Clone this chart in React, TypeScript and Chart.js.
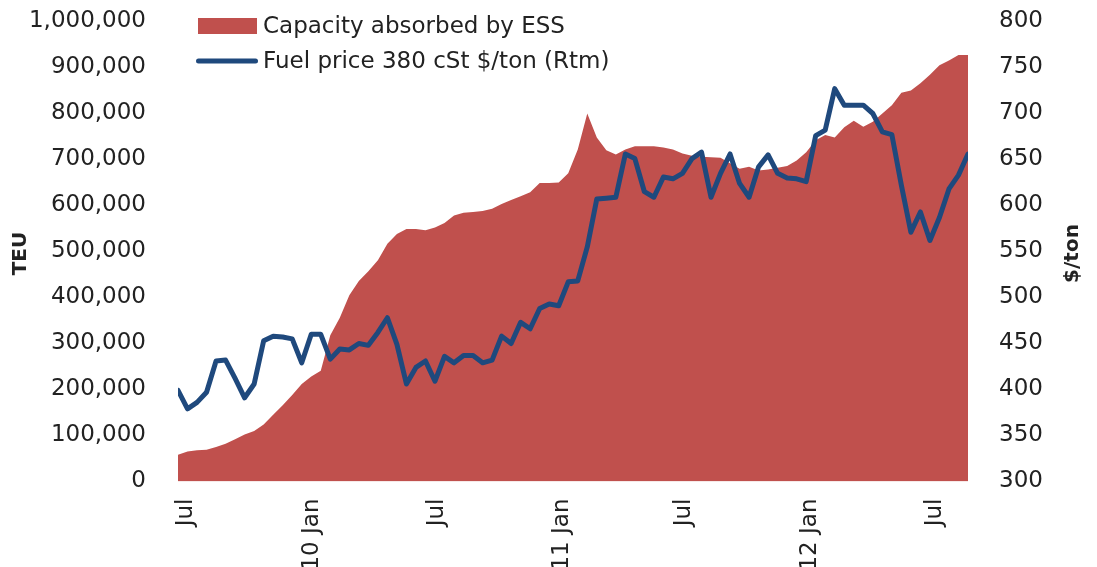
import React, { useEffect, useRef } from 'react';
import { Chart, registerables } from 'chart.js';

Chart.register(...registerables);

// x positions are bi-weekly observation indices (0 = early Jul 2009)
const TICK_LABELS = ['Jul', '10 Jan', 'Jul', '11 Jan', 'Jul', '12 Jan', 'Jul'];
const TICK_POS = [0.8, 14.1, 27.2, 40.3, 53.2, 66.4, 79.5];

const SERIES_AREA_LABEL = 'Capacity absorbed by ESS';
const SERIES_LINE_LABEL = 'Fuel price 380 cSt $/ton (Rtm)';
const LEFT_TITLE = 'TEU';
const RIGHT_TITLE = '$/ton';

// Capacity absorbed by ESS, TEU
const CAPACITY_TEU = [
  58000, 65000, 68000, 69000, 75000, 82000, 92000, 102000, 110000, 124000,
  145000, 166000, 188000, 212000, 228000, 241000, 318000, 356000, 405000, 436000,
  457000, 481000, 517000, 538000, 549000, 549000, 546000, 552000, 562000, 578000,
  584000, 586000, 588000, 593000, 603000, 612000, 620000, 629000, 649000, 649000,
  650000, 670000, 722000, 800000, 748000, 720000, 711000, 722000, 729000, 729000,
  729000, 726000, 722000, 713000, 708000, 706000, 705000, 704000, 692000, 680000,
  684000, 676000, 678000, 682000, 686000, 698000, 716000, 742000, 753000, 748000,
  770000, 784000, 771000, 782000, 800000, 818000, 845000, 850000, 866000, 884000,
  905000, 915000, 927000, 927000,
];

// Fuel price 380 cSt, $/ton (Rotterdam)
const FUEL_PRICE = [
  399, 379, 386, 397, 431, 432, 412, 391, 406, 453,
  458, 457, 455, 429, 460, 460, 433, 444, 443, 450,
  448, 462, 478, 449, 406, 424, 431, 409, 436, 429,
  437, 437, 429, 432, 458, 450, 473, 466, 488, 493,
  491, 517, 518, 555, 607, 608, 609, 656, 651, 615,
  609, 631, 629, 635, 651, 658, 609, 635, 656, 624,
  609, 642, 655, 635, 630, 629, 626, 676, 682, 727,
  709, 709, 709, 700, 680, 677, 622, 571, 593, 562,
  587, 618, 633, 656,
];

const AREA_COLOR = '#C0504D';
const LINE_COLOR = '#1F497D';
const TEXT_COLOR = '#222222';
const FONT = 'DejaVu Sans';

const overlayPlugin = {
  id: 'overlay',
  afterDraw(chart: any) {
    const { ctx, chartArea } = chart;
    const left = chartArea.left;
    ctx.save();
    // legend
    ctx.font = `23px "${FONT}"`;
    ctx.textBaseline = 'middle';
    ctx.textAlign = 'left';
    ctx.fillStyle = AREA_COLOR;
    ctx.fillRect(left + 20, 18, 59, 16);
    ctx.fillStyle = TEXT_COLOR;
    ctx.fillText(SERIES_AREA_LABEL, left + 85, 27);

    ctx.strokeStyle = LINE_COLOR;
    ctx.lineWidth = 5;
    ctx.lineCap = 'round';
    ctx.beginPath();
    ctx.moveTo(left + 20.5, 61);
    ctx.lineTo(left + 77.5, 61);
    ctx.stroke();
    ctx.fillText(SERIES_LINE_LABEL, left + 85, 62);

    // axis titles
    ctx.font = `bold 20px "${FONT}"`;
    ctx.textAlign = 'center';
    const cy = (chartArea.top + chartArea.bottom) / 2 + 2;
    ctx.translate(21, cy);
    ctx.rotate(-Math.PI / 2);
    ctx.fillText(LEFT_TITLE, 0, 0);
    ctx.rotate(Math.PI / 2);
    ctx.translate(1073 - 21, 0);
    ctx.rotate(-Math.PI / 2);
    ctx.fillText(RIGHT_TITLE, 0, 0);
    ctx.restore();
  },
};

export default function App() {
  const ref = useRef<HTMLCanvasElement | null>(null);

  useEffect(() => {
    if (!ref.current) return;
    const chart = new Chart(ref.current, {
      type: 'line',
      data: {
        datasets: [
          {
            label: SERIES_LINE_LABEL,
            data: FUEL_PRICE.map((v, i) => ({ x: i, y: v })),
            yAxisID: 'y2',
            borderColor: LINE_COLOR,
            borderWidth: 5,
            borderJoinStyle: 'round',
            borderCapStyle: 'round',
            pointRadius: 0,
            fill: false,
            tension: 0,
            order: 0,
          },
          {
            label: SERIES_AREA_LABEL,
            data: CAPACITY_TEU.map((v, i) => ({ x: i, y: v })),
            yAxisID: 'y',
            backgroundColor: AREA_COLOR,
            borderColor: AREA_COLOR,
            borderWidth: 0,
            pointRadius: 0,
            fill: 'origin',
            tension: 0,
            order: 1,
          },
        ],
      },
      options: {
        animation: false,
        responsive: true,
        maintainAspectRatio: false,
        layout: { padding: { top: 21.5, left: 0, right: 0, bottom: 0 } },
        plugins: {
          legend: { display: false },
          tooltip: { enabled: false },
        },
        scales: {
          x: {
            type: 'linear',
            min: 0,
            max: CAPACITY_TEU.length - 1,
            grid: { display: false, drawTicks: false },
            border: { display: false },
            afterBuildTicks: (axis: any) => {
              axis.ticks = TICK_POS.map((v) => ({ value: v }));
            },
            afterFit: (axis: any) => {
              axis.height = 85.5;
              axis.paddingLeft = 0;
              axis.paddingRight = 0;
            },
            ticks: {
              autoSkip: false,
              minRotation: 90,
              maxRotation: 90,
              padding: 17,
              color: TEXT_COLOR,
              font: { family: FONT, size: 23 },
              callback: (_v: any, i: number) => TICK_LABELS[i],
            },
          },
          y: {
            position: 'left',
            min: 0,
            max: 1000000,
            grid: { display: false, drawTicks: false },
            border: { display: false },
            afterFit: (axis: any) => {
              axis.width = 178;
              axis.paddingTop = 0;
              axis.paddingBottom = 0;
            },
            ticks: {
              stepSize: 100000,
              padding: 32,
              color: TEXT_COLOR,
              font: { family: FONT, size: 23 },
              callback: (v: any) => Number(v).toLocaleString('en-US'),
            },
          },
          y2: {
            position: 'right',
            min: 300,
            max: 800,
            grid: { display: false, drawTicks: false },
            border: { display: false },
            afterFit: (axis: any) => {
              axis.width = 129;
              axis.paddingTop = 0;
              axis.paddingBottom = 0;
            },
            ticks: {
              stepSize: 50,
              padding: 31,
              color: TEXT_COLOR,
              font: { family: FONT, size: 23 },
            },
          },
        },
      },
      plugins: [overlayPlugin],
    });
    return () => chart.destroy();
  }, []);

  return (
    <div style={{ position: 'fixed', left: 0, top: 0, width: 1097, height: 567 }}>
      <canvas ref={ref} />
    </div>
  );
}
